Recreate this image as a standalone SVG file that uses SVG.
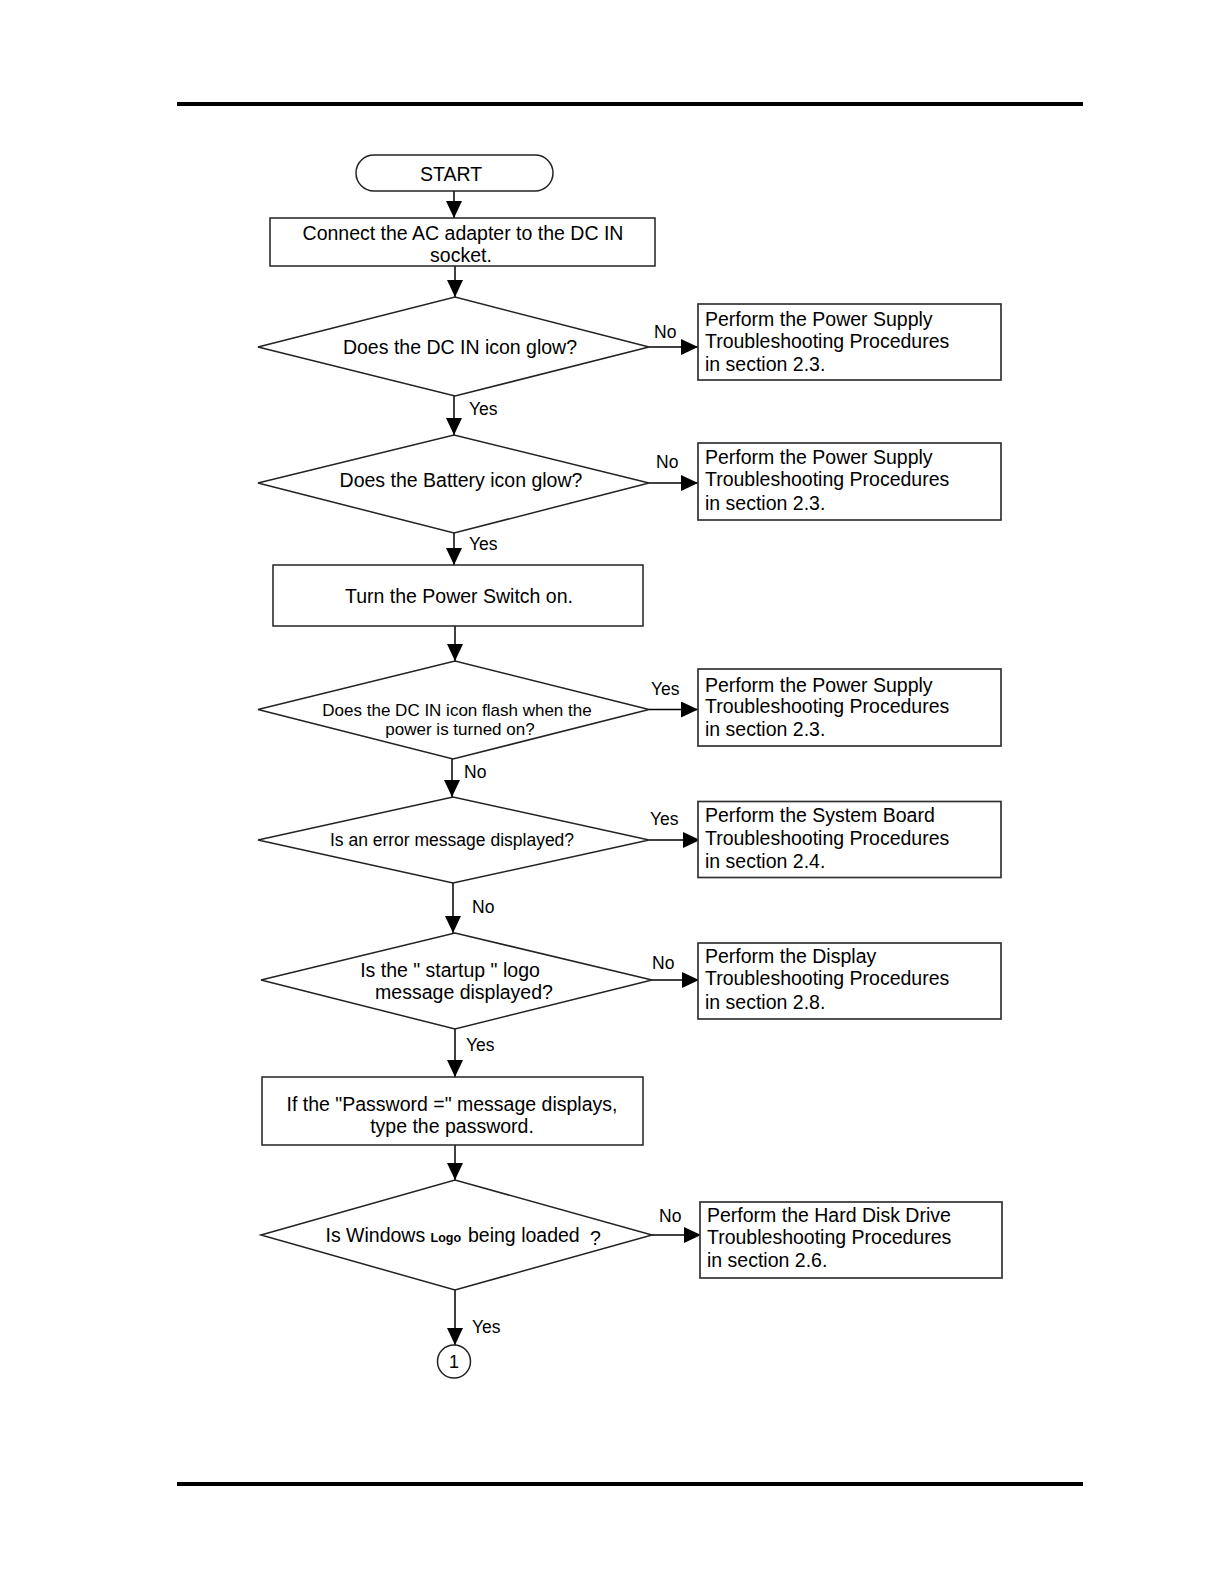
<svg xmlns="http://www.w3.org/2000/svg" width="1225" height="1585" viewBox="0 0 1225 1585">
<style>
  text { font-family: "Liberation Sans", Arial, sans-serif; fill: #000; }
  .t { font-size: 19.5px; }
  .c { text-anchor: middle; }
  .s { font-size: 17px; }
  .lbl { font-size: 17.5px; }
  .shape { fill: #fff; stroke: #222; stroke-width: 1.5; }
  .box { fill: #fff; stroke: #333; stroke-width: 1.7; }
  .conn line { stroke: #000; stroke-width: 1.5; }
</style>
<defs>
  <marker id="ah" markerUnits="userSpaceOnUse" markerWidth="17" markerHeight="16" refX="17" refY="8" orient="auto">
    <path d="M0,0 L17,8 L0,16 z" fill="#000"/>
  </marker>
</defs>
<rect x="0" y="0" width="1225" height="1585" fill="#fff"/>
<rect x="177" y="102" width="906" height="4" fill="#000"/>
<rect x="177" y="1482" width="906" height="4" fill="#000"/>

<g class="conn">
  <line x1="454" y1="191" x2="454" y2="218" marker-end="url(#ah)"/>
  <line x1="455" y1="266" x2="455" y2="297" marker-end="url(#ah)"/>
  <line x1="649" y1="347" x2="698" y2="347" marker-end="url(#ah)"/>
  <line x1="454" y1="396" x2="454" y2="435" marker-end="url(#ah)"/>
  <line x1="649" y1="483" x2="698" y2="483" marker-end="url(#ah)"/>
  <line x1="454" y1="533" x2="454" y2="565" marker-end="url(#ah)"/>
  <line x1="455" y1="626" x2="455" y2="661" marker-end="url(#ah)"/>
  <line x1="649" y1="709.5" x2="698" y2="709.5" marker-end="url(#ah)"/>
  <line x1="452" y1="759" x2="452" y2="797" marker-end="url(#ah)"/>
  <line x1="649" y1="840" x2="700" y2="840" marker-end="url(#ah)"/>
  <line x1="453" y1="883" x2="453" y2="933" marker-end="url(#ah)"/>
  <line x1="652" y1="980" x2="699" y2="980" marker-end="url(#ah)"/>
  <line x1="455" y1="1029" x2="455" y2="1077" marker-end="url(#ah)"/>
  <line x1="455" y1="1145" x2="455" y2="1180" marker-end="url(#ah)"/>
  <line x1="652" y1="1235" x2="701" y2="1235" marker-end="url(#ah)"/>
  <line x1="455" y1="1290" x2="455" y2="1345" marker-end="url(#ah)"/>
  <text class="lbl" x="654" y="338">No</text>
  <text class="lbl" x="469" y="415">Yes</text>
  <text class="lbl" x="656" y="468">No</text>
  <text class="lbl" x="469" y="550">Yes</text>
  <text class="lbl" x="651" y="695">Yes</text>
  <text class="lbl" x="464" y="778">No</text>
  <text class="lbl" x="650" y="825">Yes</text>
  <text class="lbl" x="472" y="913">No</text>
  <text class="lbl" x="652" y="969">No</text>
  <text class="lbl" x="466" y="1051">Yes</text>
  <text class="lbl" x="659" y="1222">No</text>
  <text class="lbl" x="472" y="1333">Yes</text>
</g>

<g id="start">
  <rect class="shape" x="356" y="155" width="197" height="36" rx="18" ry="18"/>
  <text class="t c" x="451" y="180.5">START</text>
</g>

<g id="connect">
  <rect class="shape" x="270" y="218" width="385" height="48"/>
  <text class="t c" x="463" y="239.5">Connect the AC adapter to the DC IN</text>
  <text class="t c" x="461" y="262">socket.</text>
</g>

<g id="dcin">
  <polygon class="shape" points="258,347 455,297 649,347 455,396"/>
  <text class="t c" x="460" y="354">Does the DC IN icon glow?</text>
</g>

<g id="ps1">
  <rect class="box" x="698" y="304" width="303" height="76"/>
  <text class="t" x="705" y="325.5">Perform the Power Supply</text>
  <text class="t" x="705" y="347.5">Troubleshooting Procedures</text>
  <text class="t" x="705" y="371">in section 2.3.</text>
</g>

<g id="battery">
  <polygon class="shape" points="258,483 454,435 649,483 454,533"/>
  <text class="t c" x="461" y="487">Does the Battery icon glow?</text>
</g>

<g id="ps2">
  <rect class="box" x="698" y="443" width="303" height="77"/>
  <text class="t" x="705" y="464">Perform the Power Supply</text>
  <text class="t" x="705" y="486">Troubleshooting Procedures</text>
  <text class="t" x="705" y="509.5">in section 2.3.</text>
</g>

<g id="power">
  <rect class="shape" x="273" y="565" width="370" height="61"/>
  <text class="t c" x="459" y="603">Turn the Power Switch on.</text>
</g>

<g id="flash">
  <polygon class="shape" points="258,709.5 455,661 649,709.5 453,759"/>
  <text class="s c" x="457" y="715.5">Does the DC IN icon flash when the</text>
  <text class="s c" x="460" y="735">power is turned on?</text>
</g>

<g id="ps3">
  <rect class="box" x="698" y="669" width="303" height="77"/>
  <text class="t" x="705" y="692">Perform the Power Supply</text>
  <text class="t" x="705" y="712.5">Troubleshooting Procedures</text>
  <text class="t" x="705" y="736">in section 2.3.</text>
</g>

<g id="error">
  <polygon class="shape" points="258,840 453,797 649,840 453,883"/>
  <text class="c" style="font-size:17.5px" x="452" y="846">Is an error message displayed?</text>
</g>

<g id="sb">
  <rect class="box" x="698" y="801.5" width="303" height="76"/>
  <text class="t" x="705" y="821.5">Perform the System Board</text>
  <text class="t" x="705" y="845">Troubleshooting Procedures</text>
  <text class="t" x="705" y="868">in section 2.4.</text>
</g>

<g id="logo">
  <polygon class="shape" points="261,980 455,933 652,980 455,1029"/>
  <text class="t c" x="450" y="976.5">Is the " startup " logo</text>
  <text class="t c" x="464" y="999">message displayed?</text>
</g>

<g id="disp">
  <rect class="box" x="698" y="943" width="303" height="76"/>
  <text class="t" x="705" y="963">Perform the Display</text>
  <text class="t" x="705" y="985">Troubleshooting Procedures</text>
  <text class="t" x="705" y="1008.5">in section 2.8.</text>
</g>

<g id="password">
  <rect class="shape" x="262" y="1077" width="381" height="68"/>
  <text class="t c" x="452" y="1110.5">If the "Password =" message displays,</text>
  <text class="t c" x="452" y="1133">type the password.</text>
</g>

<g id="windows">
  <polygon class="shape" points="261,1235 455,1180 652,1235 455,1290"/>
  <text class="t" x="325.5" y="1242">Is Windows</text>
  <text x="430.5" y="1242" style="font-size:12.5px;font-weight:bold">Logo</text>
  <text class="t" x="468" y="1242">being loaded</text>
  <text class="t" x="590" y="1245">?</text>
</g>

<g id="hdd">
  <rect class="box" x="700" y="1202" width="302" height="76"/>
  <text class="t" x="707" y="1222">Perform the Hard Disk Drive</text>
  <text class="t" x="707" y="1244">Troubleshooting Procedures</text>
  <text class="t" x="707" y="1267">in section 2.6.</text>
</g>

<g id="conn1">
  <circle class="shape" cx="454" cy="1361.5" r="16.5"/>
  <text class="c" style="font-size:18px" x="454" y="1368">1</text>
</g>
</svg>
